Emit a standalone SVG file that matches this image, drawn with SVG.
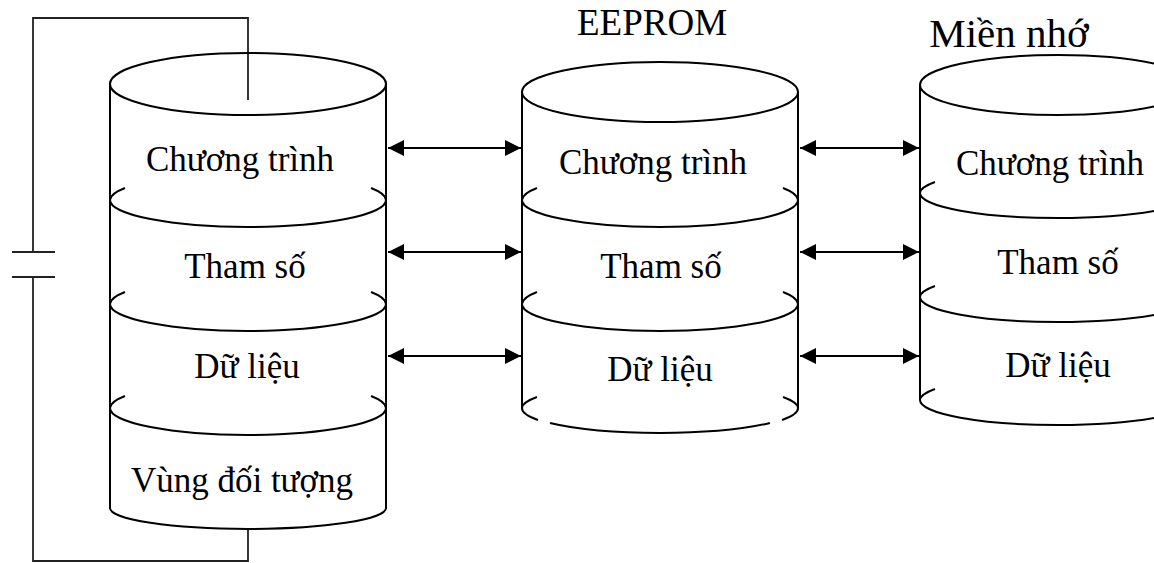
<svg xmlns="http://www.w3.org/2000/svg" width="1154" height="563" viewBox="0 0 1154 563">
<style>
.c{fill:none;stroke:#000;stroke-width:2}
.w{fill:none;stroke:#222;stroke-width:1.8}
.t{font-family:"Liberation Serif","Times New Roman",serif;font-size:35px;fill:#000;text-anchor:middle}
.a{stroke:#000;stroke-width:2;fill:none}
</style>
<defs>
<marker id="ah" viewBox="0 0 16 16" refX="16" refY="8" markerWidth="16" markerHeight="16" markerUnits="userSpaceOnUse" orient="auto-start-reverse">
<path d="M0,0 L16,8 L0,16 Z" fill="#000"/>
</marker>
</defs>
<rect width="1154" height="563" fill="#fff"/>

<g id="wire">
<path class="w" d="M248,100 V18 H33 V252 M12,252 H55 M12,277 H55 M33,277 V561 H248 V529"/>
</g>

<g id="cyl-left">
<ellipse class="c" cx="248" cy="84" rx="138" ry="31"/>
<path class="c" d="M110,84 V508 M386,84 V508"/>
<path class="c" d="M110,200 A138,27 0 0 0 386,200 M110,200 A138,27 0 0 1 125,188 M386,200 A138,27 0 0 0 371,188"/>
<path class="c" d="M110,304 A138,27 0 0 0 386,304 M110,304 A138,27 0 0 1 125,292 M386,304 A138,27 0 0 0 371,292"/>
<path class="c" d="M110,408 A138,27 0 0 0 386,408 M110,408 A138,27 0 0 1 125,396 M386,408 A138,27 0 0 0 371,396"/>
<path class="c" d="M110,508 A138,21 0 0 0 386,508"/>
<text class="t" x="240" y="171">Chương trình</text>
<text class="t" x="245" y="278">Tham số</text>
<text class="t" x="247" y="378">Dữ liệu</text>
<text class="t" x="242" y="492">Vùng đối tượng</text>
</g>

<g id="cyl-eeprom">
<text class="t" x="652" y="35" style="font-size:37px">EEPROM</text>
<ellipse class="c" cx="660" cy="92" rx="138" ry="30"/>
<path class="c" d="M522,92 V408 M798,92 V408"/>
<path class="c" d="M522,200 A138,27 0 0 0 798,200 M522,200 A138,27 0 0 1 537,188 M798,200 A138,27 0 0 0 783,188"/>
<path class="c" d="M522,304 A138,27 0 0 0 798,304 M522,304 A138,27 0 0 1 537,292 M798,304 A138,27 0 0 0 783,292"/>
<path class="c" d="M522,408 A138,25 0 0 0 538,420 M550,423 A138,25 0 0 0 770,423 M782,420 A138,25 0 0 0 798,408 M522,408 A138,25 0 0 1 537,397 M798,408 A138,25 0 0 0 783,397"/>
<text class="t" x="653" y="174">Chương trình</text>
<text class="t" x="661" y="278">Tham số</text>
<text class="t" x="660" y="381">Dữ liệu</text>
</g>

<g id="cyl-mem">
<text class="t" x="1009" y="47" style="font-size:41px">Miền nhớ</text>
<ellipse class="c" cx="1058" cy="85" rx="138" ry="30"/>
<path class="c" d="M920,85 V400"/>
<path class="c" d="M920,193 A138,25 0 0 0 1196,193 M920,193 A138,25 0 0 1 935,182"/>
<path class="c" d="M920,297 A138,25 0 0 0 1196,297 M920,297 A138,25 0 0 1 935,286"/>
<path class="c" d="M920,400 A138,25 0 0 0 1196,400 M920,400 A138,25 0 0 1 935,389"/>
<text class="t" x="1050" y="175">Chương trình</text>
<text class="t" x="1058" y="274">Tham số</text>
<text class="t" x="1058" y="377">Dữ liệu</text>
</g>

<g id="connectors">
<line class="a" x1="388" y1="148" x2="521" y2="148" marker-start="url(#ah)" marker-end="url(#ah)"/>
<line class="a" x1="388" y1="252" x2="521" y2="252" marker-start="url(#ah)" marker-end="url(#ah)"/>
<line class="a" x1="388" y1="356" x2="521" y2="356" marker-start="url(#ah)" marker-end="url(#ah)"/>
<line class="a" x1="800" y1="148" x2="919" y2="148" marker-start="url(#ah)" marker-end="url(#ah)"/>
<line class="a" x1="800" y1="252" x2="919" y2="252" marker-start="url(#ah)" marker-end="url(#ah)"/>
<line class="a" x1="800" y1="356" x2="919" y2="356" marker-start="url(#ah)" marker-end="url(#ah)"/>
</g>
</svg>
